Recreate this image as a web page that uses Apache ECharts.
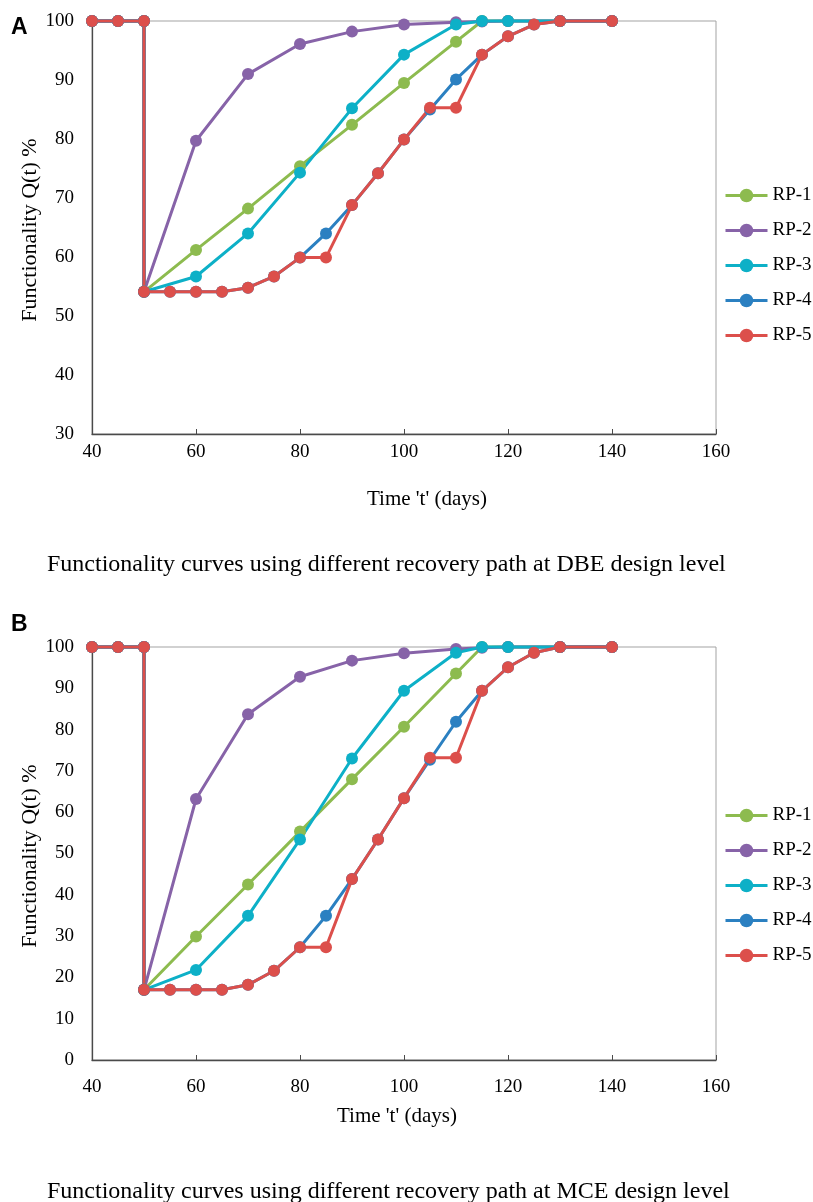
<!DOCTYPE html>
<html>
<head>
<meta charset="utf-8">
<script src="https://cdn.jsdelivr.net/npm/echarts@6/dist/echarts.min.js"></script>
<style>
html,body{margin:0;padding:0;background:#fff;}
#c{width:813px;height:1202px;}
</style>
</head>
<body>
<div id="c"></div>
<script>
// ---------- Data ----------
const seriesNames = ['RP-1', 'RP-2', 'RP-3', 'RP-4', 'RP-5'];
const xTicks = [40, 60, 80, 100, 120, 140, 160];

// Panel A (DBE)
const daysShort = [40, 45, 50, 50, 60, 70, 80, 90, 100, 110, 115, 120, 130, 140];
const daysLong  = [40, 45, 50, 50, 55, 60, 65, 70, 75, 80, 85, 90, 95, 100, 105, 110, 115, 120, 125, 130, 140];

const A_RP1 = [100, 100, 100, 54.1, 61.2, 68.2, 75.4, 82.4, 89.5, 96.5, 100, 100, 100, 100];
const A_RP2 = [100, 100, 100, 54.1, 79.7, 91.0, 96.1, 98.2, 99.4, 99.8, 99.9, 100, 100, 100];
const A_RP3 = [100, 100, 100, 54.1, 56.7, 64.0, 74.3, 85.2, 94.3, 99.4, 100, 100, 100, 100];
const A_RP4 = [100, 100, 100, 54.1, 54.1, 54.1, 54.1, 54.8, 56.7, 59.9, 64.0, 68.8, 74.2, 79.9, 85.0, 90.1, 94.3, 97.4, 99.4, 100, 100];
const A_RP5 = [100, 100, 100, 54.1, 54.1, 54.1, 54.1, 54.8, 56.7, 59.9, 59.9, 68.8, 74.2, 79.9, 85.3, 85.3, 94.3, 97.4, 99.4, 100, 100];

// Panel B (MCE)
const B_RP1 = [100, 100, 100, 17.0, 29.9, 42.5, 55.3, 68.0, 80.7, 93.6, 100, 100, 100, 100];
const B_RP2 = [100, 100, 100, 17.0, 63.2, 83.7, 92.8, 96.7, 98.5, 99.5, 99.8, 100, 100, 100];
const B_RP3 = [100, 100, 100, 17.0, 21.8, 34.9, 53.4, 73.0, 89.4, 98.6, 100, 100, 100, 100];
const B_RP4 = [100, 100, 100, 17.0, 17.0, 17.0, 17.0, 18.2, 21.6, 27.3, 34.9, 43.8, 53.4, 63.4, 72.7, 81.9, 89.4, 95.1, 98.6, 100, 100];
const B_RP5 = [100, 100, 100, 17.0, 17.0, 17.0, 17.0, 18.2, 21.6, 27.3, 27.3, 43.8, 53.4, 63.4, 73.2, 73.2, 89.4, 95.1, 98.6, 100, 100];

// ---------- Styling ----------
const colors = ['#8DBB4F', '#8763A8', '#0DB0C7', '#2B80C1', '#DC4F4B'];
const FONT = 'Liberation Serif';

function pairs(xs, ys) { return xs.map((x, i) => [x, ys[i]]); }

const panelA = [pairs(daysShort, A_RP1), pairs(daysShort, A_RP2), pairs(daysShort, A_RP3), pairs(daysLong, A_RP4), pairs(daysLong, A_RP5)];
const panelB = [pairs(daysShort, B_RP1), pairs(daysShort, B_RP2), pairs(daysShort, B_RP3), pairs(daysLong, B_RP4), pairs(daysLong, B_RP5)];

const series = [];
[panelA, panelB].forEach((panel, pi) => {
  panel.forEach((d, si) => {
    series.push({
      name: seriesNames[si],
      type: 'line',
      xAxisIndex: pi,
      yAxisIndex: pi,
      data: d,
      clip: false,
      symbol: 'circle',
      symbolSize: 12,
      showSymbol: true,
      color: colors[si],
      lineStyle: { width: 3, color: colors[si] },
      itemStyle: { color: colors[si] },
      emphasis: { disabled: true },
      animation: false
    });
  });
});

function xAxis(gi, margin) {
  return {
    type: 'value', gridIndex: gi, min: 40, max: 160, interval: 20,
    axisLine: { show: true, lineStyle: { color: '#4a4a4a', width: 1.3 } },
    axisTick: { show: true, inside: true, length: 5, lineStyle: { color: '#4a4a4a' } },
    splitLine: { show: false },
    axisLabel: { color: '#000', fontFamily: FONT, fontSize: 19, margin: margin }
  };
}
function yAxis(gi, min) {
  return {
    type: 'value', gridIndex: gi, min: min, max: 100, interval: 10,
    axisLine: { show: true, lineStyle: { color: '#4a4a4a', width: 1.3 } },
    axisTick: { show: false },
    splitLine: { show: false },
    axisLabel: { color: '#000', fontFamily: FONT, fontSize: 19, margin: 18 }
  };
}
function legend(top) {
  return {
    orient: 'vertical', left: 719, top: top,
    itemWidth: 42, itemHeight: 17, itemGap: 14,
    data: seriesNames,
    selectedMode: false,
    lineStyle: { width: 3 },
    textStyle: { color: '#000', fontFamily: FONT, fontSize: 19, lineHeight: 21 }
  };
}

const textStyle = (size, weight, family) => ({ fill: '#000', font: (weight || 'normal') + ' ' + size + 'px "' + (family || FONT) + '"' });

const graphic = [
  { type: 'text', left: 11, top: 16, style: Object.assign({ text: 'A' }, textStyle(23, 'bold', 'Liberation Sans')) },
  { type: 'text', left: 11, top: 613, style: Object.assign({ text: 'B' }, textStyle(23, 'bold', 'Liberation Sans')) },
  { type: 'text', x: 30, y: 230, rotation: Math.PI / 2, style: Object.assign({ text: 'Functionality Q(t) %', textAlign: 'center', textVerticalAlign: 'middle' }, textStyle(22)) },
  { type: 'text', x: 30, y: 856, rotation: Math.PI / 2, style: Object.assign({ text: 'Functionality Q(t) %', textAlign: 'center', textVerticalAlign: 'middle' }, textStyle(22)) },
  { type: 'text', x: 367, y: 499, style: Object.assign({ text: "Time 't' (days)", textAlign: 'left', textVerticalAlign: 'middle' }, textStyle(21)) },
  { type: 'text', x: 337, y: 1116, style: Object.assign({ text: "Time 't' (days)", textAlign: 'left', textVerticalAlign: 'middle' }, textStyle(21)) },
  { type: 'text', x: 47, y: 565, style: Object.assign({ text: 'Functionality curves using different recovery path at DBE design level', textAlign: 'left', textVerticalAlign: 'middle' }, textStyle(24)) },
  { type: 'text', x: 47, y: 1192, style: Object.assign({ text: 'Functionality curves using different recovery path at MCE design level', textAlign: 'left', textVerticalAlign: 'middle' }, textStyle(24)) }
];

const option = {
  backgroundColor: '#fff',
  animation: false,
  grid: [
    { left: 92, top: 21, width: 624, height: 413, show: true, borderColor: '#a3a3a3', borderWidth: 1, backgroundColor: 'transparent' },
    { left: 92, top: 647, width: 624, height: 413, show: true, borderColor: '#a3a3a3', borderWidth: 1, backgroundColor: 'transparent' }
  ],
  xAxis: [xAxis(0, 9), xAxis(1, 18)],
  yAxis: [yAxis(0, 30), yAxis(1, 0)],
  legend: [legend(180), legend(800)],
  series: series,
  graphic: graphic
};

const chart = echarts.init(document.getElementById('c'), null, { renderer: 'canvas' });
chart.setOption(option);
</script>
</body>
</html>
